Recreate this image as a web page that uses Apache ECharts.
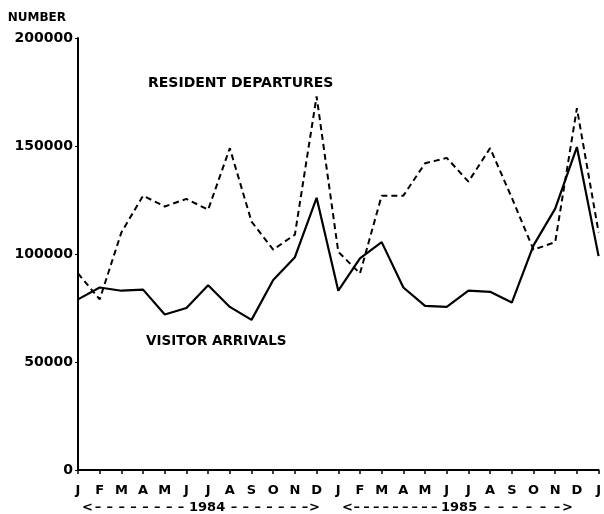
<!DOCTYPE html>
<html><head><meta charset="utf-8">
<script src="https://cdn.jsdelivr.net/npm/echarts@6/dist/echarts.min.js"></script>
<style>html,body{margin:0;padding:0;background:#fff}#c{width:604px;height:514px}</style>
</head><body><div id="c"></div>
<script>
var months = ['J','F','M','A','M','J','J','A','S','O','N','D','J','F','M','A','M','J','J','A','S','O','N','D','J'];
var residentDepartures = [91000,79000,110000,127000,122000,125500,120500,149000,115000,102000,109000,173000,101000,91000,127000,127000,142000,144500,133500,149000,126000,102000,105500,167500,110000];
var visitorArrivals = [79000,84500,83000,83500,72000,75000,85500,75500,69500,88000,98500,126000,83000,98000,105500,84500,76000,75500,83000,82500,77500,104000,121000,149500,99000];
var yTicks = [0,50000,100000,150000,200000];
var years = ['1984','1985'];

var F = 'DejaVu Sans';
var font = 'bold 13px DejaVu Sans';
function yearLabel(year, x0, xYear, x1, nBefore, nAfter, gapAfter, yCenter) {
  var g = [];
  g.push({type:'text',x:x0,y:yCenter,style:{text:'<',fill:'#000',font:font,textVerticalAlign:'middle'}});
  var a = x0 + 10, b = xYear - 2;
  for (var i = 0; i < nBefore; i++) {
    g.push({type:'text',x:a + (b - a) * (i + 0.5) / nBefore,y:yCenter,style:{text:'\u2013',fill:'#000',font:font,textAlign:'center',textVerticalAlign:'middle'}});
  }
  g.push({type:'text',x:xYear,y:yCenter,style:{text:year,fill:'#000',font:font,textVerticalAlign:'middle'}});
  var c = xYear + 33 + gapAfter, d = x1 - 9;
  for (var j = 0; j < nAfter; j++) {
    g.push({type:'text',x:c + (d - c) * (j + 0.5) / nAfter,y:yCenter,style:{text:'\u2013',fill:'#000',font:font,textAlign:'center',textVerticalAlign:'middle'}});
  }
  g.push({type:'text',x:x1,y:yCenter,style:{text:'>',fill:'#000',font:font,textAlign:'right',textVerticalAlign:'middle'}});
  return g;
}

var chart = echarts.init(document.getElementById('c'));
var graphics = [
  {type:'text',left:148,top:76,style:{text:'RESIDENT DEPARTURES',fill:'#000',font:'bold 14px DejaVu Sans'}},
  {type:'text',left:146,top:334,style:{text:'VISITOR ARRIVALS',fill:'#000',font:'bold 13.5px DejaVu Sans'}}
].concat(yearLabel(years[0], 82, 189, 320, 8, 7, 6, 508))
 .concat(yearLabel(years[1], 342, 441, 573, 9, 6, 6, 508));

chart.setOption({
  animation:false,
  grid:{left:78,top:38,right:3,bottom:44},
  xAxis:{type:'category',data:months,boundaryGap:false,
    axisLine:{lineStyle:{color:'#000',width:2}},
    axisTick:{show:true,length:4,lineStyle:{color:'#000',width:1.5}},
    axisLabel:{interval:0,color:'#000',fontFamily:F,fontWeight:'bold',fontSize:13,margin:14},
    splitLine:{show:false}},
  yAxis:{type:'value',min:yTicks[0],max:yTicks[yTicks.length-1],interval:yTicks[1]-yTicks[0],
    name:'NUMBER',nameLocation:'end',nameGap:14,
    nameTextStyle:{color:'#000',fontFamily:F,fontWeight:'bold',fontSize:12,align:'right',padding:[0,12,0,0]},
    axisLine:{show:true,lineStyle:{color:'#000',width:2}},
    axisTick:{show:true,length:3,lineStyle:{color:'#000'}},
    axisLabel:{color:'#000',fontFamily:F,fontWeight:'bold',fontSize:14,margin:5,formatter:function(v){return String(v);}},
    splitLine:{show:false}},
  series:[
    {name:'RESIDENT DEPARTURES',type:'line',data:residentDepartures,symbol:'none',
     lineStyle:{color:'#000',width:2,type:[6,4]}},
    {name:'VISITOR ARRIVALS',type:'line',data:visitorArrivals,symbol:'none',
     lineStyle:{color:'#000',width:2.2}}
  ],
  graphic:graphics
});
</script></body></html>
